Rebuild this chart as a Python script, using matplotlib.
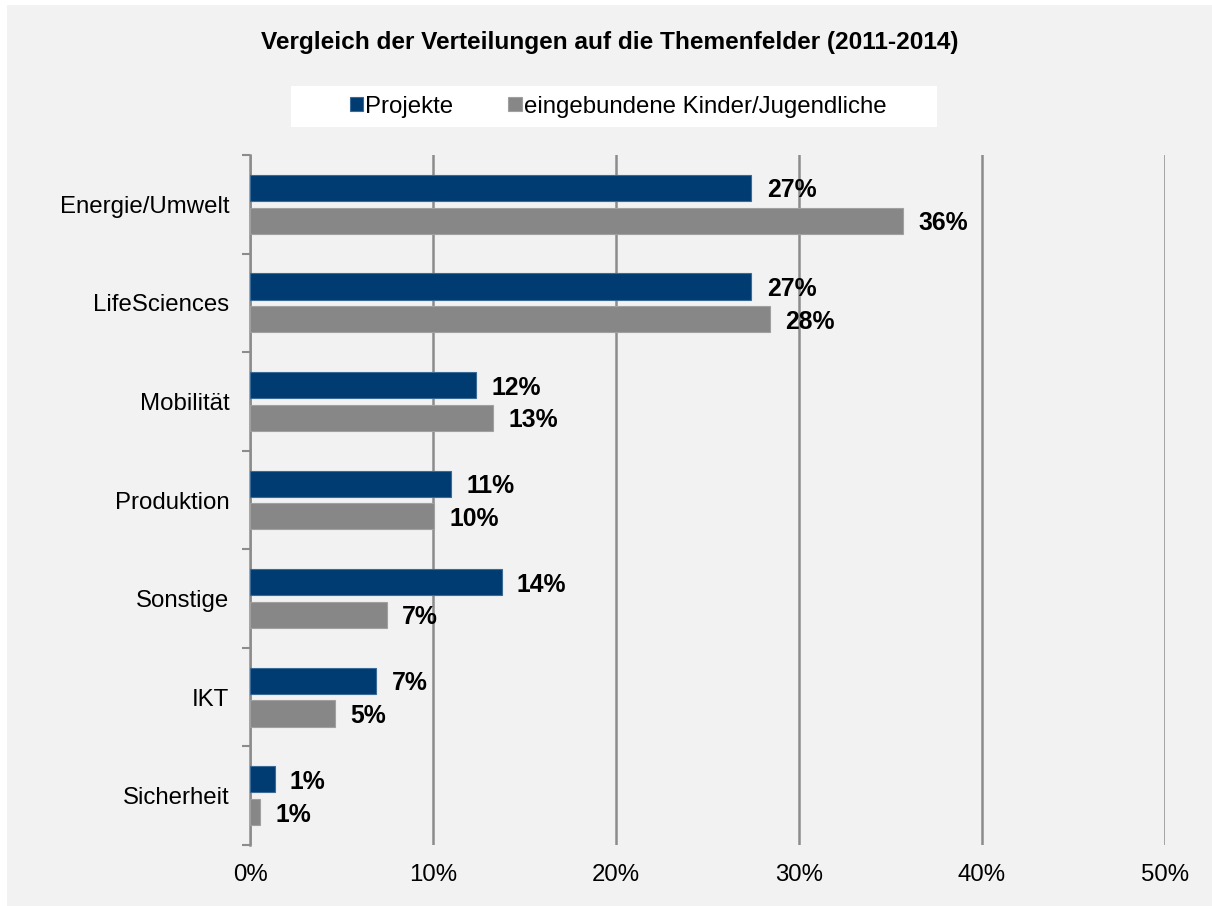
import matplotlib
matplotlib.use("Agg")
import matplotlib.pyplot as plt
import numpy as np
from matplotlib.patches import Rectangle
from matplotlib.ticker import FixedLocator

plt.rcParams['font.family'] = ['Liberation Sans', 'DejaVu Sans']

categories = ["Energie/Umwelt", "LifeSciences", "Mobilität", "Produktion",
              "Sonstige", "IKT", "Sicherheit"]
projekte = [27.4, 27.4, 12.36, 10.98, 13.75, 6.9, 1.35]
kinder = [35.7, 28.4, 13.3, 10.04, 7.47, 4.66, 0.55]
series_names = ["Projekte", "eingebundene Kinder/Jugendliche"]
xticks = [0, 10, 20, 30, 40, 50]
xticklabels = ["0%", "10%", "20%", "30%", "40%", "50%"]
title = "Vergleich der Verteilungen auf die Themenfelder (2011-2014)"

blue = "#003c71"
gray = "#878787"
bg = "#f2f2f2"
fs = 17.3

fig = plt.figure(figsize=(12.12, 9.06), dpi=100)
fig.patch.set_facecolor("white")
fig.patches.append(Rectangle((7/1212, 0), 1, 1 - 5/906, transform=fig.transFigure,
                             facecolor=bg, edgecolor="none", zorder=-10))
# legend background box
fig.patches.append(Rectangle((291/1212, 1 - 127/906), 646/1212, 41/906, transform=fig.transFigure,
                             facecolor="white", edgecolor="none", zorder=-5))

ax = fig.add_axes([250/1212, 1 - 845/906, 915/1212, 690/906])
ax.set_facecolor(bg)
ax.patch.set_alpha(0)

y = np.arange(len(categories))
h = 0.264
off = 0.166
b1 = ax.barh(y - off, projekte, height=h, color=blue, edgecolor="#3a6a96", linewidth=0.8, zorder=3,
             label=series_names[0])
b2 = ax.barh(y + off, kinder, height=h, color=gray, edgecolor="#a0a0a0", linewidth=0.8, zorder=3,
             label=series_names[1])

for bars, vals in ((b1, projekte), (b2, kinder)):
    for rect, v in zip(bars, vals):
        ax.annotate(f"{round(v):d}%", xy=(v, rect.get_y() + rect.get_height() / 2),
                    xytext=(11, 0), textcoords="offset points", ha="left", va="center_baseline",
                    fontsize=17.8, fontweight="bold", color="black", zorder=4)

ax.set_xlim(0, 50)
ax.set_ylim(len(categories) - 0.5, -0.5)
ax.set_xticks(xticks)
ax.set_xticklabels(xticklabels, fontsize=fs)
ax.tick_params(axis="x", length=0, pad=14)
ax.xaxis.grid(True, color="#8c8c8c", linewidth=1.8, zorder=0)
ax.set_axisbelow(True)

ax.yaxis.set_major_locator(FixedLocator(np.arange(-0.5, len(categories), 1.0)))
ax.yaxis.set_minor_locator(FixedLocator(y))
ax.set_yticklabels([], minor=False)
ax.set_yticklabels(categories, minor=True, fontsize=fs)
ax.tick_params(axis="y", which="major", length=6, width=1.5, color="#8c8c8c", direction="out")
ax.tick_params(axis="y", which="minor", length=0, pad=15)

for s in ("top", "right", "bottom"):
    ax.spines[s].set_visible(False)
ax.spines["left"].set_color("#8c8c8c")
ax.spines["left"].set_linewidth(1.8)

fig.text(610/1212, 1 - 42/906, title, ha="center", va="center", fontsize=17.6, fontweight="bold")

leg = fig.legend(handles=[b1, b2], loc="center", bbox_to_anchor=(618/1212, 1 - 106.5/906),
                 ncol=2, fontsize=fs, frameon=False, handlelength=0.55,
                 handleheight=0.55, handletextpad=0.08, columnspacing=2.3, borderpad=0.0)

fig.savefig("out.png", dpi=100, facecolor=fig.get_facecolor())
